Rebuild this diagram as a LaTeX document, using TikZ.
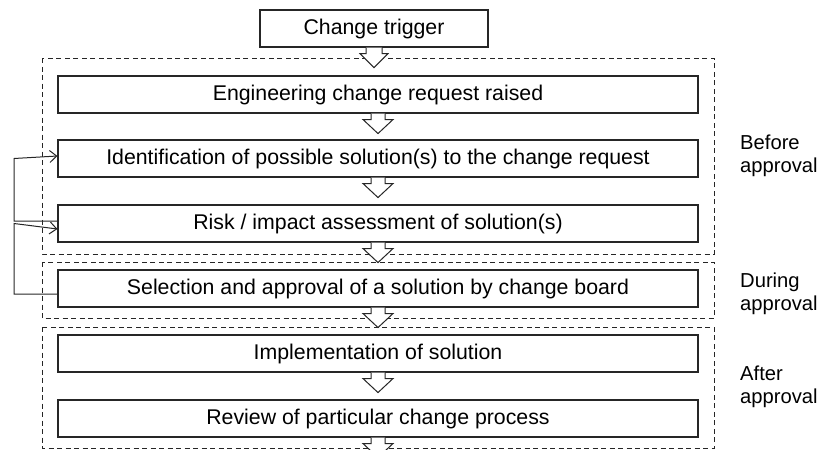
\documentclass[tikz,border=0pt]{standalone}
\usepackage{fontspec}
\setmainfont{Liberation Sans}
\usetikzlibrary{calc,arrows.meta}
\begin{document}
\begin{tikzpicture}[x=1pt,y=-1pt,
  stepbox/.style={draw=black!85,line width=1.1pt,minimum width=640pt,minimum height=37pt,inner sep=0pt,font=\fontsize{21.3}{23}\selectfont},
  phase/.style={draw=black!85,line width=1pt,dash pattern=on 5pt off 3.5pt},
  blk/.style={draw=black!85,line width=1pt,fill=white,line join=miter},
  loopline/.style={draw=black!85,line width=1pt,-{Straight Barb[length=7pt,width=12pt,line width=1pt]}},
  lab/.style={anchor=base west,align=left,inner sep=0pt,font=\fontsize{20.2}{22.5}\selectfont}]
\useasboundingbox (0,0) rectangle (820,450);
\clip (0,0) rectangle (820,450);
% phase frames
\draw[phase] (42,58) rectangle (714,254);
\draw[phase] (42,262) rectangle (714,318);
\draw[phase] (42,327) rectangle (714,448);
% boxes
\node[stepbox,minimum width=228pt] (t) at (374,28.5) {Change trigger};
\node[stepbox] (b1) at (378,94.5) {Engineering change request raised};
\node[stepbox] (b2) at (378,158.5) {Identification of possible solution(s) to the change request};
\node[stepbox] (b3) at (378,223.5) {Risk / impact assessment of solution(s)};
\node[stepbox] (b4) at (378,288.5) {Selection and approval of a solution by change board};
\node[stepbox] (b5) at (378,353.5) {Implementation of solution};
\node[stepbox] (b6) at (378,418.5) {Review of particular change process};
% block arrows
\foreach \s in {b1,b2,b3,b4,b5,b6}{
  \draw[blk] ($(\s.south)+(-7,0)$) -- ++(0,6) -- ++(-8,0) -- ++(15,14) -- ++(15,-14) -- ++(-8,0) -- ++(0,-6);
}
\draw[blk] ($(t.south)+(-8,0)$) -- ++(0,6) -- ++(-6,0) -- ++(14,14) -- ++(14,-14) -- ++(-6,0) -- ++(0,-6);
% feedback loops
\coordinate (l1) at (14,0);
\draw[loopline] ($(b3.west)+(0,-2.5)$) -| (l1 |- b2.west) -- ($(b2.west)+(0,-2.5)$);
\draw[loopline] ($(b4.west)+(0,5.5)$) -| (l1 |- b3.west) -- ($(b3.west)+(0,5.5)$);
% phase labels
\node[lab] (p1) at (740,172) {Before\\approval};
\node[lab] (p2) at (740,310) {During\\approval};
\node[lab] (p3) at (740,403) {After\\approval};
\end{tikzpicture}
\end{document}
